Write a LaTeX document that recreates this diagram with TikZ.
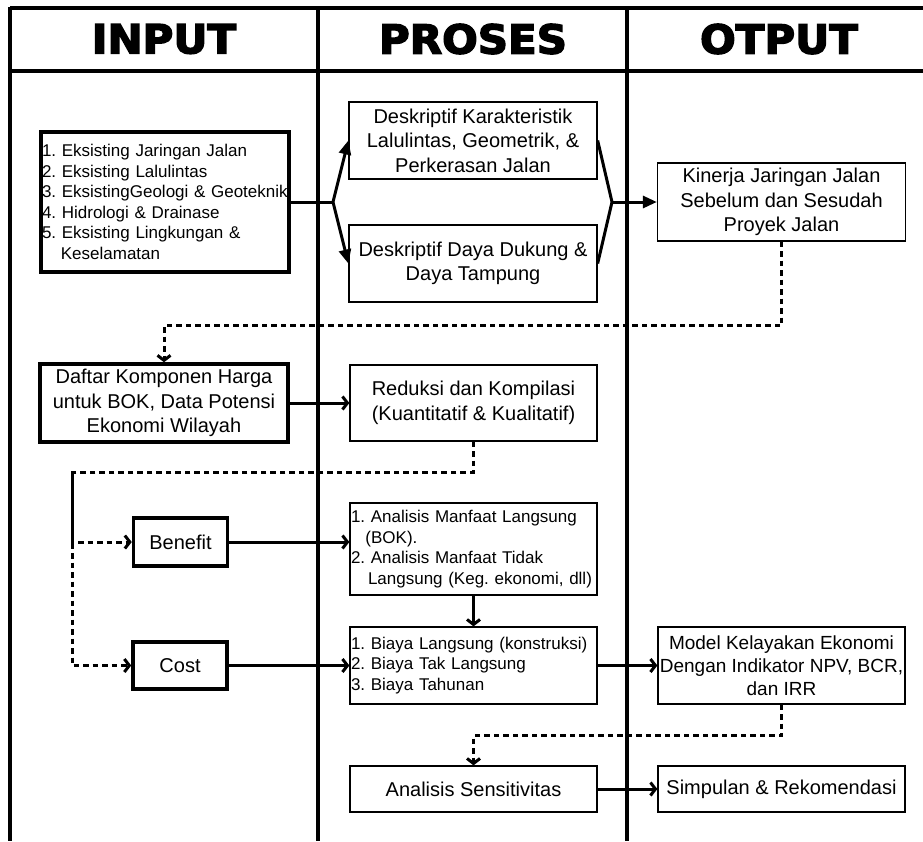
\documentclass[tikz,border=0pt]{standalone}
\usepackage{fontspec}
\usepackage{graphicx}
\setmainfont{Liberation Sans}
\newfontfamily\headfont{DejaVu Sans}[FakeBold=3.5]
\usetikzlibrary{arrows.meta}

\begin{document}
\frenchspacing
\begin{tikzpicture}[x=1pt, y=-1pt,
  box/.style={draw, line width=1.3pt, inner sep=1pt, align=center, font=\fontsize{20}{24.5}\selectfont},
  inbox/.style={box, line width=3.5pt},
  listbox/.style={align=left, text width=#1, font=\fontsize{17}{20.5}\selectfont},
  frame/.style={line width=3.5pt},
  line/.style={line width=3pt},
  dots/.style={line width=3pt, dash pattern=on 5.5pt off 4pt},
  tri/.style={-{Triangle[length=14pt,width=12pt]}},
  barb/.style={-{Straight Barb[length=5pt,width=13pt]}},
  head/.style={font=\headfont\bfseries\fontsize{40}{40}\selectfont}]
\useasboundingbox (0,0) rectangle (923,841);

\draw[frame] (10,8) -- (923,8);
\draw[frame] (10,71) -- (923,71);
\draw[frame] (10,6.5) -- (10,841);
\draw[frame] (318,6.5) -- (318,841);
\draw[frame] (627,6.5) -- (627,841);

\node[head] (hin) at (164,39) {\scalebox{1.05}[1]{INPUT}};
\node[head] (hpro) at (473,39) {\scalebox{1.05}[1]{PROSES}};
\node[head] (hout) at (779,39) {\scalebox{1.05}[1]{OTPUT}};

\node[inbox, listbox=246pt, minimum width=248pt, minimum height=140pt] (list) at (165,202)
  {1. Eksisting Jaringan Jalan\\ 2. Eksisting Lalulintas\\ 3. EksistingGeologi \& Geoteknik\\
   4. Hidrologi \& Drainase\\ 5. Eksisting Lingkungan \&\\ \hspace*{1.112em}Keselamatan};
\node[box, minimum width=248pt, minimum height=77pt] (desk1) at (473,140.5)
  {Deskriptif Karakteristik\\ Lalulintas, Geometrik, \&\\ Perkerasan Jalan};
\node[box, minimum width=248pt, minimum height=77pt] (desk2) at (473,263.5)
  {Deskriptif Daya Dukung \&\\ Daya Tampung};
\node[box, minimum width=248pt, minimum height=78pt] (kin) at (781.5,202)
  {Kinerja Jaringan Jalan\\ Sebelum dan Sesudah\\ Proyek Jalan};

\node[inbox, minimum width=248pt, minimum height=78pt] (daftar) at (164,403)
  {Daftar Komponen Harga\\ untuk BOK, Data Potensi\\ Ekonomi Wilayah};
\node[box, minimum width=247pt, minimum height=76pt] (reduksi) at (473.5,403)
  {Reduksi dan Kompilasi\\ (Kuantitatif \& Kualitatif)};

\node[inbox, minimum width=94pt, minimum height=48pt] (benefit) at (180.5,542) {Benefit};
\node[inbox, minimum width=94pt, minimum height=47pt] (cost) at (180,665.5) {Cost};

\node[box, listbox=245pt, minimum width=247pt, minimum height=92pt] (manfaat) at (473.5,549)
  {1. Analisis Manfaat Langsung\\ \hspace*{0.85em}(BOK).\\ 2. Analisis Manfaat Tidak\\
   \hspace*{1.0em}Langsung (Keg. ekonomi, dll)};
\node[box, listbox=245pt, minimum width=247pt, minimum height=77pt] (biaya) at (473.5,665.5)
  {1. Biaya Langsung (konstruksi)\\ 2. Biaya Tak Langsung\\ 3. Biaya Tahunan};
\node[box, minimum width=247pt, minimum height=77pt, font=\fontsize{19}{23}\selectfont] (model) at (781.5,665.5)
  {Model Kelayakan Ekonomi\\ Dengan Indikator NPV, BCR,\\ dan IRR};

\node[box, minimum width=247pt, minimum height=46pt] (sens) at (473.5,789) {Analisis Sensitivitas};
\node[box, minimum width=247pt, minimum height=46pt] (simp) at (781.5,789) {Simpulan \& Rekomendasi};

\coordinate (fork) at (333,202);
\coordinate (join) at (612,202);
\coordinate (split) at (72,472);

\draw[line] (list.east) -- (fork);
\draw[line, tri] (fork) -- (desk1.west);
\draw[line, tri] (fork) -- (desk2.west);
\draw[line] (desk1.east) -- (join) -- (desk2.east);
\draw[line, tri] (join) -- (kin.west);
\draw[dots, barb] (kin.south) -- ++(0,84) -| (daftar.north);
\draw[line, barb] (daftar.east) -- (reduksi.west);
\draw[dots, barb] (reduksi.south) |- (split) |- (cost.west);
\draw[dots, barb] (split) |- (benefit.west);
\draw[line, barb] (benefit.east) -- (benefit.east -| manfaat.west);
\draw[line, barb] (manfaat.south) -- (biaya.north);
\draw[line, barb] (cost.east) -- (biaya.west);
\draw[line, barb] (biaya.east) -- (model.west);
\draw[dots, barb] (model.south) -- ++(0,31) -| (sens.north);
\draw[line, barb] (sens.east) -- (simp.west);

\end{tikzpicture}
\end{document}
